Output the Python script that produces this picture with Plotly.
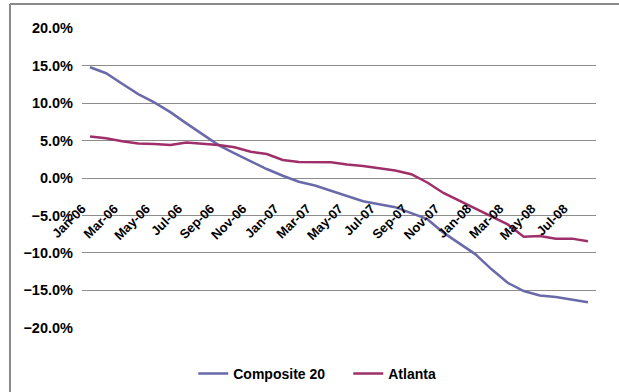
import plotly.graph_objects as go

months = [
    "Jan-06", "Feb-06", "Mar-06", "Apr-06", "May-06", "Jun-06", "Jul-06", "Aug-06",
    "Sep-06", "Oct-06", "Nov-06", "Dec-06", "Jan-07", "Feb-07", "Mar-07", "Apr-07",
    "May-07", "Jun-07", "Jul-07", "Aug-07", "Sep-07", "Oct-07", "Nov-07", "Dec-07",
    "Jan-08", "Feb-08", "Mar-08", "Apr-08", "May-08", "Jun-08", "Jul-08", "Aug-08",
]
composite20 = [
    0.148, 0.140, 0.126, 0.112, 0.101, 0.088, 0.073, 0.0585,
    0.044, 0.033, 0.022, 0.012, 0.003, -0.005, -0.010, -0.017,
    -0.025, -0.031, -0.035, -0.039, -0.047, -0.055, -0.073, -0.087,
    -0.102, -0.122, -0.140, -0.151, -0.157, -0.159, -0.162, -0.166,
]
atlanta = [
    0.0555, 0.053, 0.049, 0.046, 0.0455, 0.044, 0.0475, 0.046,
    0.044, 0.041, 0.035, 0.032, 0.024, 0.0215, 0.0215, 0.021,
    0.018, 0.016, 0.013, 0.010, 0.005, -0.006, -0.020, -0.0305,
    -0.041, -0.051, -0.062, -0.0785, -0.0775, -0.081, -0.081, -0.0845,
]
tick_labels = months[::2]

font_family = "Liberation Sans, Arial, sans-serif"

fig = go.Figure()
fig.add_trace(go.Scatter(x=months, y=composite20, mode="lines", name="Composite 20",
                         line=dict(color="#6a6aaa", width=2.5)))
fig.add_trace(go.Scatter(x=months, y=atlanta, mode="lines", name="Atlanta",
                         line=dict(color="#9e2f68", width=2.5)))

# outer chart border (Excel chart area): left and top edges are the visible ones
border = dict(color="#8a8a8a", width=2)
fig.add_shape(type="line", xref="paper", yref="paper",
              x0=-0.1401, x1=-0.1401, y0=-0.4, y1=1.08, line=border)
fig.add_shape(type="line", xref="paper", yref="paper",
              x0=-0.1401, x1=1.2, y0=1.08, y1=1.08, line=border)

fig.update_layout(
    width=619,
    height=392,
    margin=dict(l=82, r=23, t=28, b=64, autoexpand=False),
    plot_bgcolor="white",
    paper_bgcolor="white",
    font=dict(family=font_family, color="black"),
    showlegend=True,
    legend=dict(orientation="h", x=0.518, xanchor="center", y=-0.153, yanchor="middle",
                entrywidth=110,
                font=dict(size=14, weight="bold"), bgcolor="rgba(0,0,0,0)"),
    xaxis=dict(
        type="category",
        range=[-0.5, 31.5],
        anchor="free",
        position=0.5,
        automargin=False,
        showgrid=False,
        showline=False,
        zeroline=False,
        tickmode="array",
        tickvals=tick_labels,
        ticktext=tick_labels,
        tickangle=-45,
        ticks="outside",
        ticklen=17,
        tickcolor="rgba(0,0,0,0)",
        ticklabelshift=-8,
        tickfont=dict(size=13, weight="bold"),
    ),
    yaxis=dict(
        range=[-0.2004, 0.2004],
        dtick=0.05,
        tick0=0,
        tickformat=".1%",
        automargin=False,
        showgrid=True,
        gridcolor="#8c8c8c",
        gridwidth=1,
        zeroline=False,
        showline=False,
        ticklabelstandoff=8,
        tickfont=dict(size=14.5, weight="bold"),
    ),
)

fig.write_html(
    "out.html",
    config={"displayModeBar": False},
    post_script="document.body.style.margin='0';document.body.style.overflow='hidden';",
)
